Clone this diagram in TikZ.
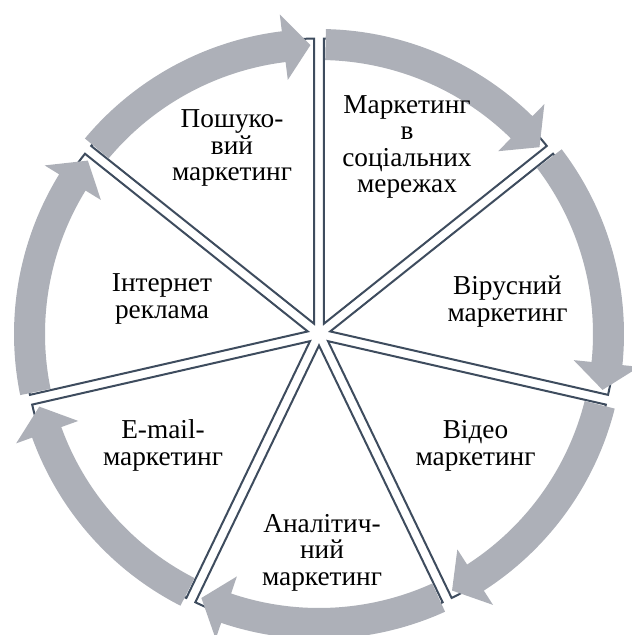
\documentclass[tikz,border=0pt]{standalone}
\usepackage{fontspec}
\setmainfont{Liberation Serif}
\newfontfamily\sectorfont{Liberation Serif}
\definecolor{arrowgray}{RGB}{173,176,184}
\definecolor{edgeblue}{RGB}{62,76,94}
\tikzset{
  sectorshape/.style={draw=edgeblue, fill=white, line width=2pt, line join=miter},
  ringarrow/.style={fill=arrowgray, draw=none},
  sectortext/.style={font=\sectorfont\fontsize{27.3}{26.5}\selectfont, align=center, anchor=base, inner sep=0pt, text=black}
}
\begin{document}
\begin{tikzpicture}
\useasboundingbox (-319pt,-301pt) rectangle (313pt,334pt);
% sectors
\foreach \k in {0,...,6} {
  \pgfmathsetmacro{\A}{90-\k*360/7}
  \pgfmathsetmacro{\B}{\A-360/7}
  \pgfmathsetmacro{\M}{\A-180/7}
  \draw[sectorshape] (\M:11.5pt) -- ++(\A:285pt) arc[start angle=\A, end angle=\B, radius=285pt] -- cycle;
}
% ring arrows
\foreach \k in {0,...,6} {
  \pgfmathsetmacro{\A}{90-\k*360/7-1.3}
  \pgfmathsetmacro{\T}{90-(\k+1)*360/7+1.7}
  \pgfmathsetmacro{\H}{\T+5.3}
  \fill[ringarrow] (\A:305pt) arc[start angle=\A, end angle=\H, radius=305pt]
     -- (\H:322pt) -- (\T:289pt) -- (\H:256pt) -- (\H:274pt)
     arc[start angle=\H, end angle=\A, radius=274pt] -- cycle;
}
% labels (anchored at the baseline of the last line)
\node[sectortext] (search) at (-87pt,153pt) {Пошуко-\\вий\\маркетинг};
\node[sectortext] (social) at (88pt,141pt) {Маркетинг\\в\\соціальних\\мережах};
\node[sectortext] (viral) at (188.5pt,13pt) {Вірусний\\маркетинг};
\node[sectortext] (video) at (156.5pt,-131pt) {Відео\\маркетинг};
\node[sectortext] (analytic) at (3pt,-251pt) {Аналітич-\\ний\\маркетинг};
\node[sectortext] (email) at (-156pt,-131pt) {E-mail-\\маркетинг};
\node[sectortext] (internet) at (-157pt,16pt) {Інтернет\\реклама};
\end{tikzpicture}
\end{document}
